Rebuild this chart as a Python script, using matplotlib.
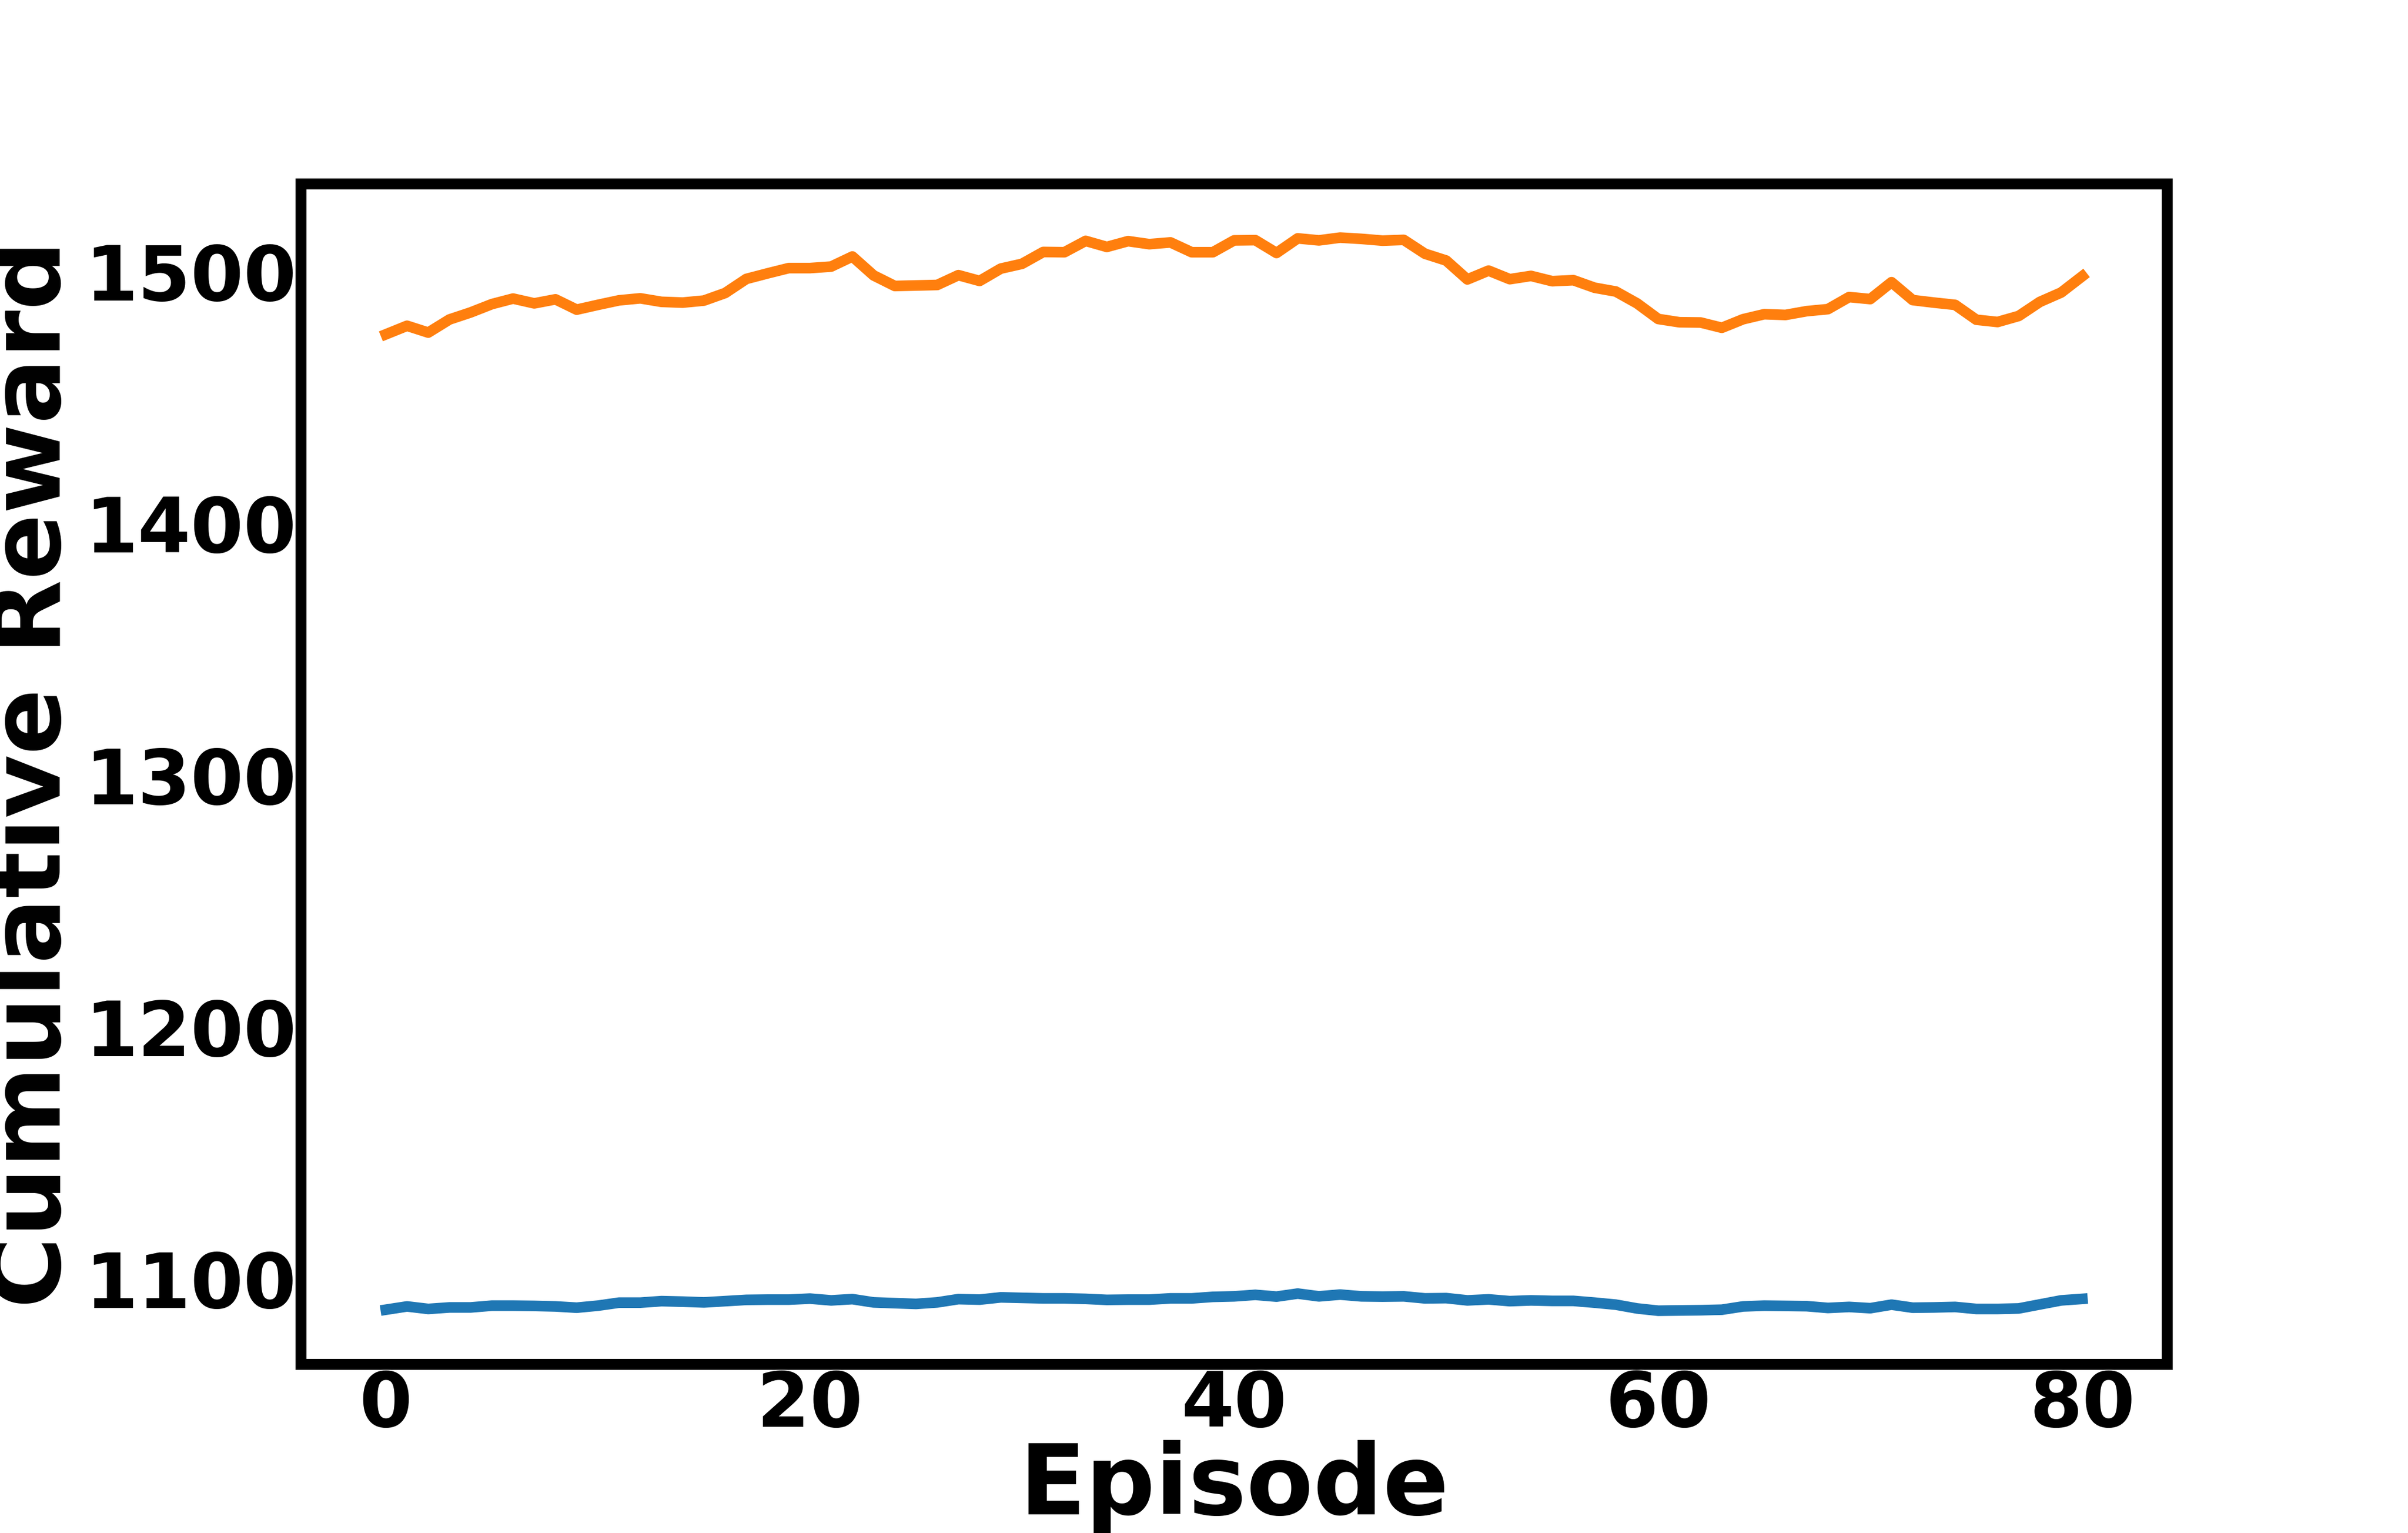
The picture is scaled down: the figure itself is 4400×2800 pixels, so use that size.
import matplotlib
matplotlib.use("Agg")
import matplotlib.pyplot as plt
import numpy as np

episodes = list(range(81))

reward_blue = [
    1087.9, 1089.2, 1088.2, 1088.8, 1088.8, 1089.5, 1089.5, 1089.4, 1089.2, 1088.7,
    1089.5, 1090.7, 1090.7, 1091.3, 1091.1, 1090.8, 1091.3, 1091.8, 1091.9, 1091.9,
    1092.3, 1091.6, 1092.1, 1090.8, 1090.5, 1090.2, 1090.8, 1092.1, 1091.9, 1092.8,
    1092.6, 1092.4, 1092.4, 1092.2, 1091.8, 1091.9, 1091.9, 1092.4, 1092.4, 1093.0,
    1093.2, 1093.8, 1093.1, 1094.3, 1093.2, 1093.9, 1093.2, 1093.1, 1093.2, 1092.4,
    1092.5, 1091.6, 1092.0, 1091.3, 1091.6, 1091.4, 1091.4, 1090.7, 1089.9, 1088.4,
    1087.5, 1087.6, 1087.7, 1087.9, 1089.2, 1089.5, 1089.4, 1089.3, 1088.6, 1089.0,
    1088.5, 1089.9, 1088.7, 1088.8, 1089.0, 1088.2, 1088.2, 1088.4, 1090.0, 1091.6,
    1092.2,
]

reward_orange = [
    1475.1, 1478.5, 1475.8, 1481.0, 1483.8, 1487.1, 1489.3, 1487.4, 1489.0, 1484.9,
    1486.8, 1488.6, 1489.4, 1488.0, 1487.7, 1488.5, 1491.5, 1497.1, 1499.3, 1501.4,
    1501.4, 1502.0, 1506.0, 1498.5, 1494.3, 1494.5, 1494.7, 1498.6, 1496.3, 1501.2,
    1503.1, 1507.8, 1507.7, 1512.2, 1509.8, 1512.1, 1510.9, 1511.6, 1507.7, 1507.7,
    1512.4, 1512.5, 1507.4, 1513.2, 1512.4, 1513.5, 1513.0, 1512.3, 1512.6, 1507.1,
    1504.4, 1496.9, 1500.4, 1497.0, 1498.3, 1496.2, 1496.6, 1493.6, 1492.1, 1487.4,
    1481.2, 1479.9, 1479.8, 1477.7, 1481.1, 1483.1, 1482.8, 1484.3, 1485.1, 1489.9,
    1489.1, 1495.8, 1488.7, 1487.7, 1486.8, 1480.9, 1480.0, 1482.4, 1488.0, 1491.7,
    1498.2,
]

plt.rcParams['font.family'] = ['DejaVu Sans']
plt.rcParams['font.weight'] = 'bold'

fig, ax = plt.subplots(figsize=(11, 7), dpi=400)

ax.plot(episodes, reward_blue, color='#1f77b4', linewidth=3.5)
ax.plot(episodes, reward_orange, color='#ff7f0e', linewidth=3.5)

for s in ax.spines.values():
    s.set_linewidth(3.6)
    s.set_color('black')

ax.set_xticks([0, 20, 40, 60, 80])
ax.set_yticks([1100, 1200, 1300, 1400, 1500])
ax.tick_params(axis='both', length=0, pad=1.5, labelsize=25)
for lab in ax.get_xticklabels() + ax.get_yticklabels():
    lab.set_fontweight('bold')

ax.set_xlabel('Episode', fontsize=32, fontweight='bold', labelpad=-1)
ax.set_ylabel('Cumulative Reward', fontsize=32, fontweight='bold', labelpad=1.5)

fig.savefig('out.png', dpi=400)
